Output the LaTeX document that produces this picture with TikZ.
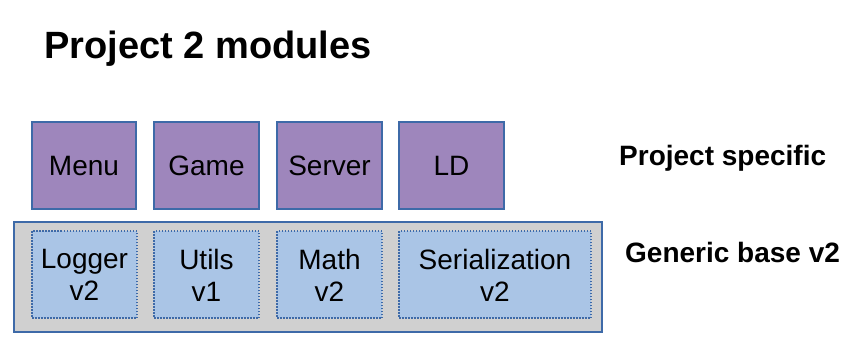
\documentclass[tikz,border=0pt]{standalone}
\usepackage{fontspec}
\setmainfont{Liberation Sans}
\definecolor{modpurple}{HTML}{9E86BC}
\definecolor{edgeblue}{HTML}{3E6AA8}
\definecolor{basegray}{HTML}{D0D0D0}
\definecolor{libblue}{HTML}{AAC5E6}
\begin{document}
\begin{tikzpicture}[x=1pt,y=-1pt,
  specbox/.style={draw=edgeblue, line width=1.4pt, fill=modpurple},
  basebox/.style={draw=edgeblue, line width=1.4pt, fill=basegray},
  libbox/.style={draw=edgeblue, line width=1.2pt, dash pattern=on 1.5pt off 1.5pt, fill=libblue},
  lbl/.style={font=\fontsize{28}{32}\selectfont, align=center, inner sep=0pt},
  side/.style={font=\fontsize{28}{32}\selectfont\bfseries, anchor=base west, inner sep=0pt}]
\useasboundingbox (0,0) rectangle (866,360);

% heading
\node[font=\fontsize{38}{40}\selectfont\bfseries, anchor=base west, inner sep=0pt] (title) at (44,58) {Project 2 modules};

% project-specific modules
\draw[specbox] (32,122) rectangle (136,209);
\draw[specbox] (154,122) rectangle (259,209);
\draw[specbox] (277,122) rectangle (382,209);
\draw[specbox] (399,122) rectangle (504,209);
\node[lbl] (menu) at (84,165.5) {Menu};
\node[lbl] (game) at (206.5,165.5) {Game};
\node[lbl] (server) at (329.5,165.5) {Server};
\node[lbl] (ld) at (451.5,165.5) {LD};

% generic base layer
\draw[basebox] (14,222) rectangle (602,332);
\draw[libbox] (32,231) rectangle (137,318);
\draw[libbox] (154,231) rectangle (259,318);
\draw[libbox] (277,231) rectangle (382,318);
\draw[libbox] (399,231) rectangle (591,318);
\node[lbl] (logger) at (84.5,275) {Logger\\v2};
\node[lbl] (utils) at (206.5,275) {Utils\\v1};
\node[lbl] (math) at (329.5,275) {Math\\v2};
\node[lbl] (serial) at (495,275) {Serialization\\v2};

% layer captions
\node[side] (specific) at (619,165) {Project specific};
\node[side] (generic) at (625,262) {Generic base v2};
\end{tikzpicture}
\end{document}
